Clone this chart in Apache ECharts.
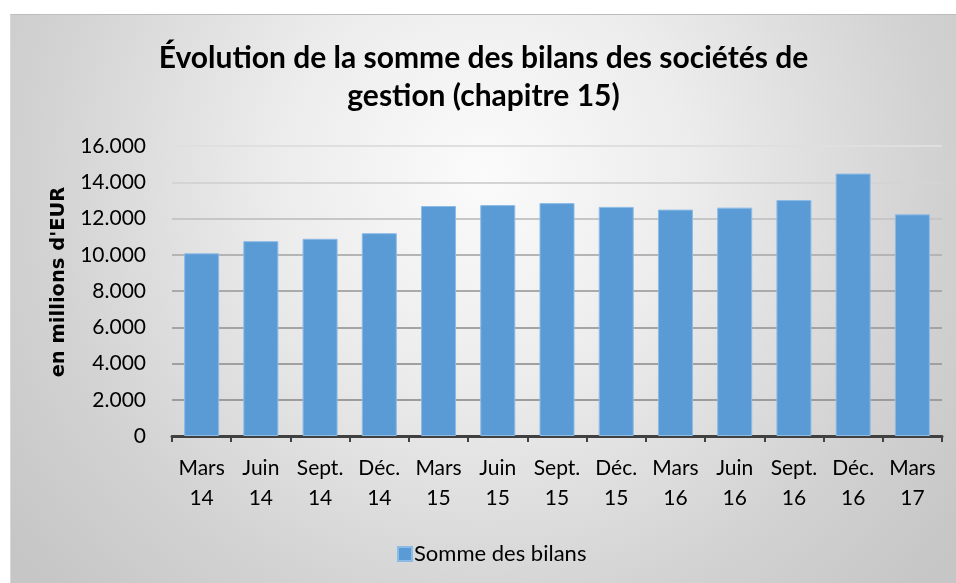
<!DOCTYPE html>
<html>
<head>
<meta charset="utf-8">
<script src="https://cdn.jsdelivr.net/npm/echarts@6/dist/echarts.min.js"></script>
<style>
html,body{margin:0;padding:0;background:#fff;}
#chart{position:absolute;left:10px;top:14px;width:946px;height:569px;box-sizing:border-box;border-top:1px solid #bdbdbd;border-left:1px solid #d8d8d8;}
</style>
</head>
<body>
<div id="chart"></div>
<script>
const categories = ['Mars\n14','Juin\n14','Sept.\n14','Déc.\n14','Mars\n15','Juin\n15','Sept.\n15','Déc.\n15','Mars\n16','Juin\n16','Sept.\n16','Déc.\n16','Mars\n17'];
const sommeDesBilans = [10080, 10750, 10880, 11190, 12690, 12740, 12850, 12640, 12490, 12600, 13020, 14480, 12230];
const yTicks = {min: 0, max: 16000, interval: 2000};
const titleText = 'Évolution de la somme des bilans des sociétés de\ngestion (chapitre 15)';
const yAxisName = "en millions d'EUR";
const seriesName = 'Somme des bilans';

const chart = echarts.init(document.getElementById('chart'), null, {renderer: 'canvas'});
chart.setOption({
  animation: false,
  backgroundColor: {
    type: 'radial', x: 0.5, y: 0.28, r: 1.05,
    colorStops: [
      {offset: 0, color: '#fbfbfb'},
      {offset: 0.35, color: '#ececec'},
      {offset: 0.75, color: '#d2d2d2'},
      {offset: 1, color: '#c6c6c6'}
    ]
  },
  title: {
    text: titleText,
    left: 'center',
    top: 19,
    textStyle: {fontFamily: 'Lato', fontWeight: 'bold', fontSize: 30, lineHeight: 38, color: '#000'}
  },
  legend: {
    data: [seriesName],
    left: 381,
    top: 523,
    itemWidth: 14,
    itemHeight: 14,
    itemGap: 4,
    icon: 'rect',
    textStyle: {fontFamily: 'Lato', fontSize: 22, color: '#000', padding: [0, 0, 0, -3]}
  },
  grid: {left: 161, right: 14, top: 131, bottom: 147, containLabel: false},
  xAxis: {
    type: 'category',
    data: categories,
    boundaryGap: true,
    axisLine: {show: true, lineStyle: {color: '#404040', width: 3}},
    axisTick: {show: true, alignWithLabel: false, length: 6, lineStyle: {color: '#404040', width: 2}},
    axisLabel: {interval: 0, fontFamily: 'Lato', fontSize: 21, lineHeight: 30, color: '#000', margin: 17}
  },
  yAxis: {
    type: 'value',
    min: yTicks.min, max: yTicks.max, interval: yTicks.interval,
    name: yAxisName,
    nameLocation: 'middle',
    nameGap: 100,
    nameRotate: 90,
    nameTextStyle: {fontFamily: 'DejaVu Sans', fontWeight: 'bold', fontSize: 19.5, color: '#000', padding: [0, 0, 0, 18]},
    axisLine: {show: false},
    axisTick: {show: false},
    axisLabel: {
      fontFamily: 'Lato', fontSize: 21, color: '#000', margin: 26,
      formatter: v => v === 0 ? '0' : v.toLocaleString('de-DE')
    },
    splitLine: {show: true, lineStyle: {width: 2, color: ['#9a9a9a','#9c9c9c','#a0a0a0','#a4a4a4','#aaaaaa','#b4b4b4','#c6c6c6','#d4d4d4','#dfdfdf']}}
  },
  series: [{
    name: seriesName,
    type: 'bar',
    data: sommeDesBilans,
    barWidth: 35,
    itemStyle: {color: '#5b9bd5', borderColor: '#8cbbe6', borderWidth: 1}
  }]
});
</script>
</body>
</html>
